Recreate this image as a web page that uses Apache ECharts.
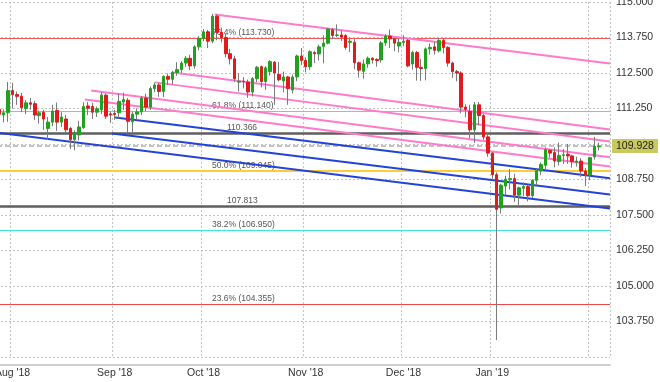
<!DOCTYPE html>
<html><head><meta charset="utf-8">
<script src="https://cdn.jsdelivr.net/npm/echarts@6/dist/echarts.min.js"></script>
<style>html,body{margin:0;padding:0;background:#fff}#c{width:660px;height:382px}</style>
</head><body><div id="c"></div>
<script>
// trading days (categories)
const dates = [
'2018-07-27','2018-07-30','2018-07-31',
'2018-08-01','2018-08-02','2018-08-03','2018-08-06','2018-08-07','2018-08-08','2018-08-09','2018-08-10','2018-08-13','2018-08-14','2018-08-15','2018-08-16','2018-08-17','2018-08-20','2018-08-21','2018-08-22','2018-08-23','2018-08-24','2018-08-27','2018-08-28','2018-08-29','2018-08-30','2018-08-31',
'2018-09-03','2018-09-04','2018-09-05','2018-09-06','2018-09-07','2018-09-10','2018-09-11','2018-09-12','2018-09-13','2018-09-14','2018-09-17','2018-09-18','2018-09-19','2018-09-20','2018-09-21','2018-09-24','2018-09-25','2018-09-26','2018-09-27','2018-09-28',
'2018-10-01','2018-10-02','2018-10-03','2018-10-04','2018-10-05','2018-10-08','2018-10-09','2018-10-10','2018-10-11','2018-10-12','2018-10-15','2018-10-16','2018-10-17','2018-10-18','2018-10-19','2018-10-22','2018-10-23','2018-10-24','2018-10-25','2018-10-26','2018-10-29','2018-10-30','2018-10-31',
'2018-11-01','2018-11-02','2018-11-05','2018-11-06','2018-11-07','2018-11-08','2018-11-09','2018-11-12','2018-11-13','2018-11-14','2018-11-15','2018-11-16','2018-11-19','2018-11-20','2018-11-21','2018-11-22','2018-11-23','2018-11-26','2018-11-27','2018-11-28','2018-11-29','2018-11-30',
'2018-12-03','2018-12-04','2018-12-05','2018-12-06','2018-12-07','2018-12-10','2018-12-11','2018-12-12','2018-12-13','2018-12-14','2018-12-17','2018-12-18','2018-12-19','2018-12-20','2018-12-21','2018-12-24','2018-12-26','2018-12-27','2018-12-28','2018-12-31',
'2019-01-02','2019-01-03','2019-01-04','2019-01-07','2019-01-08','2019-01-09','2019-01-10','2019-01-11','2019-01-14','2019-01-15','2019-01-16','2019-01-17','2019-01-18','2019-01-21','2019-01-22','2019-01-23','2019-01-24','2019-01-25','2019-01-28','2019-01-29','2019-01-30','2019-01-31',
'2019-02-01','2019-02-04','2019-02-05','2019-02-06','2019-02-07'
];
// [open, close, low, high]
const ohlc = [
[111.22,111.05,110.75,111.30],[111.02,111.10,110.76,111.22],[111.10,111.88,110.78,112.18],
[111.88,111.74,111.25,112.15],[111.74,111.68,111.38,111.85],[111.68,111.28,111.12,111.80],[111.25,111.45,111.05,111.55],[111.45,111.40,111.20,111.62],
[111.42,111.02,110.84,111.52],[111.00,111.10,110.72,111.18],[111.12,110.88,110.50,111.20],[110.55,110.77,110.15,110.95],[110.77,111.16,110.63,111.38],
[111.18,110.77,110.46,111.46],[110.77,110.95,110.60,111.12],[110.88,110.50,110.38,111.02],[110.55,110.15,109.82,110.60],[110.15,110.40,109.78,110.48],
[110.32,110.60,110.12,110.82],[110.58,111.32,110.53,111.47],[111.34,111.26,111.02,111.48],[111.32,111.12,110.88,111.45],[111.12,111.24,110.95,111.32],
[111.20,111.72,111.06,111.83],[111.72,110.98,110.88,111.78],[111.06,111.02,110.74,111.14],
[111.08,111.04,110.85,111.20],[111.10,111.50,110.90,111.78],[111.48,111.56,111.20,111.80],[111.54,110.80,110.38,111.62],[110.78,111.05,110.40,111.15],
[111.05,111.13,110.85,111.25],[111.13,111.62,111.02,111.68],[111.62,111.30,111.15,111.77],[111.30,111.95,111.20,112.03],[111.95,112.08,111.82,112.17],
[112.08,111.85,111.66,112.15],[111.85,112.38,111.65,112.42],[112.38,112.28,112.08,112.48],[112.28,112.52,112.10,112.58],[112.52,112.62,112.40,112.88],
[112.62,112.85,112.50,112.92],[112.85,113.02,112.72,113.10],[113.02,112.75,112.60,113.14],[112.75,113.42,112.65,113.48],[113.42,113.72,113.30,113.80],
[113.72,113.95,113.62,114.05],[113.95,113.62,113.38,114.02],[113.62,114.50,113.55,114.58],[114.50,113.93,113.65,114.56],[113.93,113.74,113.58,114.10],
[113.75,113.18,113.05,113.87],[113.18,113.00,112.80,113.35],[113.00,112.30,112.18,113.11],[112.18,112.21,111.85,112.50],[112.21,112.20,111.96,112.36],
[112.18,111.83,111.63,112.27],[111.83,112.30,111.67,112.36],[112.30,112.70,112.17,112.75],[112.72,112.20,111.99,112.76],[112.20,112.68,111.90,112.74],
[112.55,112.90,112.41,112.95],[112.88,112.50,111.38,112.92],[112.45,112.26,112.20,112.89],[112.22,112.36,111.82,112.55],[112.36,111.95,111.38,112.40],
[111.90,112.36,111.78,112.45],[112.36,113.10,112.21,113.15],[113.10,112.94,112.78,113.38],
[112.94,112.72,112.52,113.05],[112.72,113.25,112.61,113.30],[113.22,113.18,112.85,113.28],[113.17,113.42,112.94,113.50],[113.44,113.55,112.84,113.83],
[113.55,114.05,113.51,114.08],[114.02,113.82,113.69,114.08],[113.82,113.84,113.76,114.21],[113.84,113.76,113.63,114.00],[113.82,113.40,113.32,113.87],
[113.58,113.62,113.24,113.75],[113.58,112.86,112.63,113.69],[112.86,112.60,112.34,112.90],[112.56,112.82,112.30,112.98],[112.82,113.02,112.68,113.08],
[113.02,112.96,112.83,113.06],[112.98,112.94,112.72,113.02],[112.96,113.56,112.86,113.62],[113.56,113.80,113.46,113.86],[113.80,113.70,113.38,114.03],
[113.70,113.55,113.27,113.74],[113.45,113.58,113.23,113.71],
[113.58,113.62,113.44,113.83],[113.65,112.75,112.70,113.70],[112.82,113.22,112.62,113.28],[113.22,112.70,112.23,113.28],[112.70,112.66,112.22,113.00],
[112.66,113.35,112.24,113.40],[113.35,113.40,113.15,113.54],[113.42,113.30,113.15,113.60],[113.28,113.65,113.22,113.72],[113.65,113.40,113.19,113.71],
[113.40,112.85,112.72,113.44],[112.85,112.55,112.33,112.90],[112.55,112.50,112.21,112.61],[112.50,111.30,111.08,112.56],[111.30,111.22,110.94,111.40],
[111.15,110.50,110.20,111.38],[110.50,111.38,110.04,111.48],[111.38,111.00,110.66,111.48],[111.00,110.25,110.15,111.05],[110.25,109.68,109.55,110.40],
[109.68,108.92,108.73,109.72],[108.92,107.70,103.10,109.00],[107.75,108.55,107.55,108.60],[108.52,108.76,108.20,108.88],[108.74,108.78,108.40,109.12],
[108.78,108.20,107.96,108.95],[108.20,108.46,107.80,108.50],[108.44,108.50,108.17,108.65],[108.50,108.18,107.98,108.55],[108.18,108.72,108.10,108.76],
[108.72,109.06,108.55,109.12],[109.06,109.28,108.90,109.35],[109.25,109.80,109.10,109.88],[109.78,109.68,109.52,109.82],[109.70,109.40,109.18,109.88],
[109.38,109.60,109.25,110.05],[109.60,109.62,109.30,109.82],[109.64,109.58,109.30,110.00],[109.58,109.38,109.17,109.62],[109.36,109.40,109.20,109.55],
[109.40,109.05,108.84,109.50],[109.05,108.92,108.52,109.15],
[108.92,109.52,108.72,109.55],[109.55,109.92,109.45,110.25],[109.90,109.93,109.77,110.05]
];
const fibPct = ['76.4%','61.8%','50.0%','38.2%','23.6%'];
const fibValues = [113.730,111.140,109.045,106.950,104.355];
const pivotValues = [110.366,107.813];
const lastPrice = 109.928;
// trend lines: [[dayIndex, price], [dayIndex, price]]
const pinkLines = [
  [[48.5,114.56],[137.5,112.835]],
  [[39.1,112.52],[137.5,110.51]],
  [[35.1,112.17],[137.5,110.09]],
  [[20.7,111.88],[137.5,109.53]],
  [[19.3,111.57],[137.5,109.21]]
];
const blueLines = [
  [[-0.5,110.40],[137.5,107.73]],
  [[25.4,110.37],[137.5,108.22]],
  [[26.1,110.93],[137.5,108.79]]
];
const monthStarts = ['2018-08-01','2018-09-03','2018-10-01','2018-11-01','2018-12-03','2019-01-02','2019-02-01'];
const monthLabels = ["Aug '18","Sep '18","Oct '18","Nov '18","Dec '18","Jan '19",""];
const yMin = 102.5, yMax = 115, yStep = 1.25;

// styles
const fibColors = ['#f25a5a','#40e4e8','#ffcc33','#40e4e8','#f04646'];
const fibWidths = [1.2,1.2,2,1.2,1.2];
const FONT = 'Liberation Sans';

const labelMap = new Map(monthStarts.map((d,i)=>[d, monthLabels[i]]));
const startSet = new Set(monthStarts);

const markData = [];
fibValues.forEach((v,i)=>markData.push({
  yAxis:v, lineStyle:{color:fibColors[i],width:fibWidths[i],type:'solid'},
  label:{formatter: fibPct[i]+' ('+v.toFixed(3)+')', distance:[215,1]}
}));
pivotValues.forEach(v=>markData.push({
  yAxis:v, lineStyle:{color:'#5e5e5e',width:2.5,type:'solid'},
  label:{formatter: v.toFixed(3), distance:[230,1]}
}));
markData.push({
  yAxis:lastPrice, lineStyle:{color:'#b0b0b0',width:1.5,type:[5,3]},
  label:{position:'end', formatter:lastPrice.toFixed(3), backgroundColor:'#c9c95f', color:'#222',
    padding:[2,4,1,4], fontSize:10.5, distance:2}
});

const series = [];
pinkLines.forEach(seg=>series.push({
  type:'line', xAxisIndex:1, yAxisIndex:0, data:seg, symbol:'none', silent:true, z:2,
  lineStyle:{color:'#ff7acb', width:2}
}));
blueLines.forEach(seg=>series.push({
  type:'line', xAxisIndex:1, yAxisIndex:0, data:seg, symbol:'none', silent:true, z:2,
  lineStyle:{color:'#2443d6', width:2}
}));
series[0].markLine = {
  silent:true, symbol:['none','none'], z:1, animation:false,
  label:{show:true, position:'insideStartTop', color:'#555', fontSize:8.5, fontFamily:FONT},
  data: markData
};
series.push({
  type:'candlestick', name:'wick', xAxisIndex:0, yAxisIndex:0, data:ohlc, barWidth:0, z:3, silent:true,
  itemStyle:{color:'#7a7a7a', color0:'#7a7a7a', borderColor:'#7a7a7a', borderColor0:'#7a7a7a', borderWidth:1}
});
series.push({
  type:'candlestick', name:'body', xAxisIndex:0, yAxisIndex:0, z:4, silent:true, barWidth:3,
  data: ohlc.map(([o,c])=>[o,c,Math.min(o,c),Math.max(o,c)]),
  itemStyle:{color:'#1ea31e', color0:'#e01b1b', borderColor:'#1ea31e', borderColor0:'#e01b1b', borderWidth:1}
});

const chart = echarts.init(document.getElementById('c'), null, {renderer:'canvas'});
chart.setOption({
  animation:false,
  backgroundColor:'#fff',
  textStyle:{fontFamily:FONT},
  grid:{left:-3, right:50, top:2, bottom:25, containLabel:false, outerBoundsMode:'none'},
  xAxis:[{
    type:'category', data:dates, boundaryGap:true, position:'bottom', offset:8,
    axisLine:{show:true, lineStyle:{color:'#cfcfcf', width:2}},
    axisTick:{show:false},
    axisLabel:{interval:(i,v)=>labelMap.has(v), formatter:v=>labelMap.get(v)||'', color:'#333', fontSize:10.5, margin:3, fontFamily:FONT},
    splitLine:{show:true, interval:(i,v)=>startSet.has(v), lineStyle:{color:'#c2c2c2', type:[2,2], width:1}}
  },{
    type:'value', min:-0.5, max:137.5, show:false
  }],
  yAxis:{
    type:'value', position:'right', min:yMin, max:yMax, interval:yStep,
    axisLine:{show:true, lineStyle:{color:'#9a9a9a', width:1}},
    axisTick:{show:false},
    axisLabel:{formatter:v=>Math.abs(v-110)<1e-9?'':v.toFixed(3), color:'#333', fontSize:10.5, margin:6, showMinLabel:false, fontFamily:FONT},
    splitLine:{show:true, lineStyle:{color:'#c2c2c2', type:[2,2], width:1}}
  },
  series: series
});
</script></body></html>
